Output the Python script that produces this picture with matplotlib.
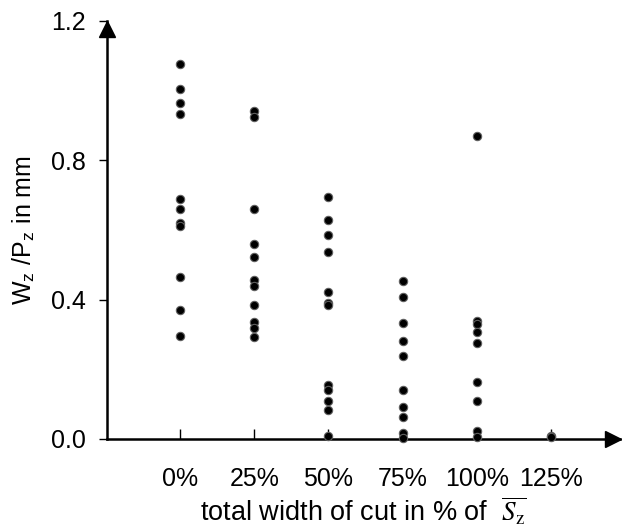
import numpy as np
import matplotlib.pyplot as plt

plt.rcParams['font.family'] = ['Liberation Sans', 'DejaVu Sans']
plt.rcParams['mathtext.fontset'] = 'stix'

# category labels along the x axis
categories = ['0%', '25%', '50%', '75%', '100%', '125%']

# Wz/Pz values (mm) read per category
vals_0 = [1.077, 1.006, 0.964, 0.934, 0.690, 0.661, 0.621, 0.611, 0.464, 0.369, 0.295]
vals_25 = [0.942, 0.924, 0.661, 0.559, 0.523, 0.456, 0.438, 0.386, 0.335, 0.318, 0.292]
vals_50 = [0.695, 0.629, 0.587, 0.538, 0.423, 0.390, 0.384, 0.155, 0.142, 0.109, 0.082, 0.010]
vals_75 = [0.454, 0.407, 0.332, 0.280, 0.237, 0.140, 0.092, 0.062, 0.017, 0.003]
vals_100 = [0.869, 0.340, 0.330, 0.307, 0.276, 0.164, 0.109, 0.022, 0.007]
vals_125 = [0.010, 0.005]

groups = [vals_0, vals_25, vals_50, vals_75, vals_100, vals_125]

fig = plt.figure(figsize=(6.23, 5.27), dpi=100)
ax = fig.add_axes([107/623, 1 - 439/527, 513/623, 418/527])

for i, g in enumerate(groups):
    ax.plot([i] * len(g), g, linestyle='none', marker='o', markersize=6,
            markerfacecolor='black', markeredgecolor='#606060', markeredgewidth=0.8,
            clip_on=False, zorder=3)

ax.set_xlim(-0.985, 5.93)
ax.set_ylim(0, 1.2)

for s in ['top', 'right']:
    ax.spines[s].set_visible(False)
for s in ['left', 'bottom']:
    ax.spines[s].set_linewidth(1.8)

# arrow heads at the ends of the axes
ax.plot(5.93 - 0.09, 0, marker='>', color='black', markersize=11,
        transform=ax.get_xaxis_transform(), clip_on=False)
ax.plot(0, 1.2 - 0.024, marker='^', color='black', markersize=11.5,
        transform=ax.get_yaxis_transform(), clip_on=False)

ax.set_yticks([0.0, 0.4, 0.8, 1.2])
ax.set_yticklabels(['0.0', '0.4', '0.8', '1.2'], fontsize=18)
ax.tick_params(axis='y', direction='out', length=6, width=1, pad=9)

ax.set_xticks(range(len(categories)))
ax.set_xticklabels(categories, fontsize=18)
ax.tick_params(axis='x', direction='in', length=7, width=1, pad=20)

ax.set_ylabel(r'W$_\mathregular{z}$ /P$_\mathregular{z}$ in mm', fontsize=18, labelpad=10)
ax.set_xlabel(r'total width of cut in % of  $\overline{S_\mathrm{z}}$', fontsize=19.5, labelpad=3)

fig.savefig('out.png', dpi=100)
